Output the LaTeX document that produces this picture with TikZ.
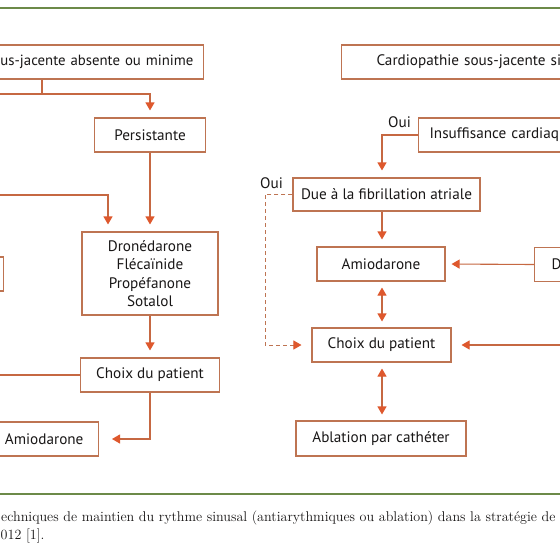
\documentclass[tikz,border=0pt]{standalone}
\usepackage{fontspec}
\newfontfamily\boxfont{PT Sans}
\usetikzlibrary{arrows.meta}
\definecolor{boxc}{RGB}{190,116,82}
\definecolor{linec}{RGB}{198,104,66}
\definecolor{tipc}{RGB}{222,88,45}
\definecolor{greenc}{RGB}{108,138,72}
\definecolor{txt}{RGB}{25,23,23}
\tikzset{
  box/.style={draw=boxc, line width=1.1pt, minimum height=34pt, inner ysep=0pt, inner xsep=0pt,
    font={\boxfont\fontsize{15.2}{18.4}\selectfont}, text=txt},
  lbl/.style={inner sep=0pt, font={\boxfont\fontsize{15.2}{18.4}\selectfont}, text=txt},
  conn/.style={draw=linec, line width=1.1pt},
  tipA/.tip={Triangle[length=8pt,width=9pt,color=tipc,fill=tipc]},
  arr/.style={conn, -tipA, shorten >=7pt},
  darr/.style={conn, tipA-tipA, shorten >=6pt, shorten <=6pt},
  dasharr/.style={draw=boxc, line width=0.9pt, dash pattern=on 4pt off 3pt, -tipA, shorten >=10pt},
  greenrule/.style={draw=greenc, line width=2.5pt},
  captext/.style={inner sep=0pt, font={\fontsize{14.1}{17}\selectfont}, text=txt}
}
\begin{document}
\begin{tikzpicture}[x=1pt,y=-1pt]
\useasboundingbox (0,0) rectangle (560,549);
\clip (0,0) rectangle (560,549);
\fill[white] (0,0) rectangle (560,549);
% rules
\draw[greenrule] (-5,8) -- (565,8);
\draw[greenrule] (-5,494) -- (565,494);
% left column
\node[box, anchor=east, inner xsep=10pt, text width=253pt, align=right,
  font={\boxfont\fontsize{14.8}{18.4}\selectfont}] (b1) at (204,62) {us-jacente absente ou minime};
\node[box, minimum width=111pt] (pers) at (150,135) {Persistante};
\node[box, minimum width=136pt, minimum height=83pt, align=center] (drone) at (150,273.5) {Dronédarone\\Flécaïnide\\Propéfanone\\Sotalol};
\node[box, anchor=east, minimum width=60pt] (lp) at (4,274) {};
\node[box, minimum width=139pt] (choixL) at (150,375) {Choix du patient};
\node[box, anchor=east, inner xsep=15pt, text width=100pt, align=right] (amioL) at (99,439) {Amiodarone};
% right column
\node[box, anchor=west, inner xsep=35pt, text width=250pt, align=left] (cardR) at (341,62) {Cardiopathie sous-jacente si};
\node[box, anchor=west, inner xsep=11pt, text width=200pt, align=left] (insuf) at (418,135) {Insuffisance cardiaq};
\node[box, minimum width=187pt, minimum height=33pt] (due) at (386.5,194.5) {Due à la fibrillation atriale};
\node[box, minimum width=128pt] (amioR) at (381,264) {Amiodarone};
\node[box, anchor=west, inner xsep=17pt, text width=100pt, align=left] (dbox) at (534,264.5) {D};
\node[box, minimum width=139pt] (choixR) at (381.5,345) {Choix du patient};
\node[box, minimum width=170pt, minimum height=35pt] (abl) at (381,438.5) {Ablation par cathéter};
\node[lbl] (oui1) at (399.5,122) {Oui};
\node[lbl] (oui2) at (271.5,183) {Oui};
% coordinates
\coordinate (j1) at (42,94);
\coordinate (e1) at (-5,94);
\coordinate (c1) at (150,94);
\coordinate (e2) at (-5,195);
\coordinate (k2) at (108,195);
\coordinate (e3) at (-5,375);
\coordinate (k3) at (382,135);
\coordinate (k4) at (265,194.5);
\coordinate (k5) at (265,345);
\coordinate (e4) at (565,345);
% left connectors
\draw[conn] (j1 |- b1.south) -- (j1);
\draw[arr] (e1) -- (c1) -- (pers.north);
\draw[arr] (pers.south) -- (drone.north);
\draw[arr] (e2) -- (k2) -- (k2 |- drone.north);
\draw[arr] (drone.south) -- (choixL.north);
\draw[conn] (e3) -- (choixL.west);
\draw[arr, shorten >=13pt] (choixL.south) |- (amioL.east);
% right connectors
\draw[arr] (insuf.west) -- (k3) -- (k3 |- due.north);
\draw[dasharr] (due.west) -- (k4) -- (k5) -- (choixR.west);
\draw[arr] (k3 |- due.south) -- (k3 |- amioR.north);
\draw[arr, shorten >=6pt] (dbox.west) -- (amioR.east);
\draw[darr] (k3 |- amioR.south) -- (k3 |- choixR.north);
\draw[arr, shorten >=10pt] (e4) -- (choixR.east);
\draw[darr] (k3 |- choixR.south) -- (k3 |- abl.north);
% caption
\node[captext, anchor=base west] (cap1) at (1,521) {echniques de maintien du rythme sinusal (antiarythmiques ou ablation) dans la stratégie de};
\node[captext, anchor=base west] (cap2) at (0.5,539) {\oldstylenums{012} [\oldstylenums{1}].};
\end{tikzpicture}
\end{document}
